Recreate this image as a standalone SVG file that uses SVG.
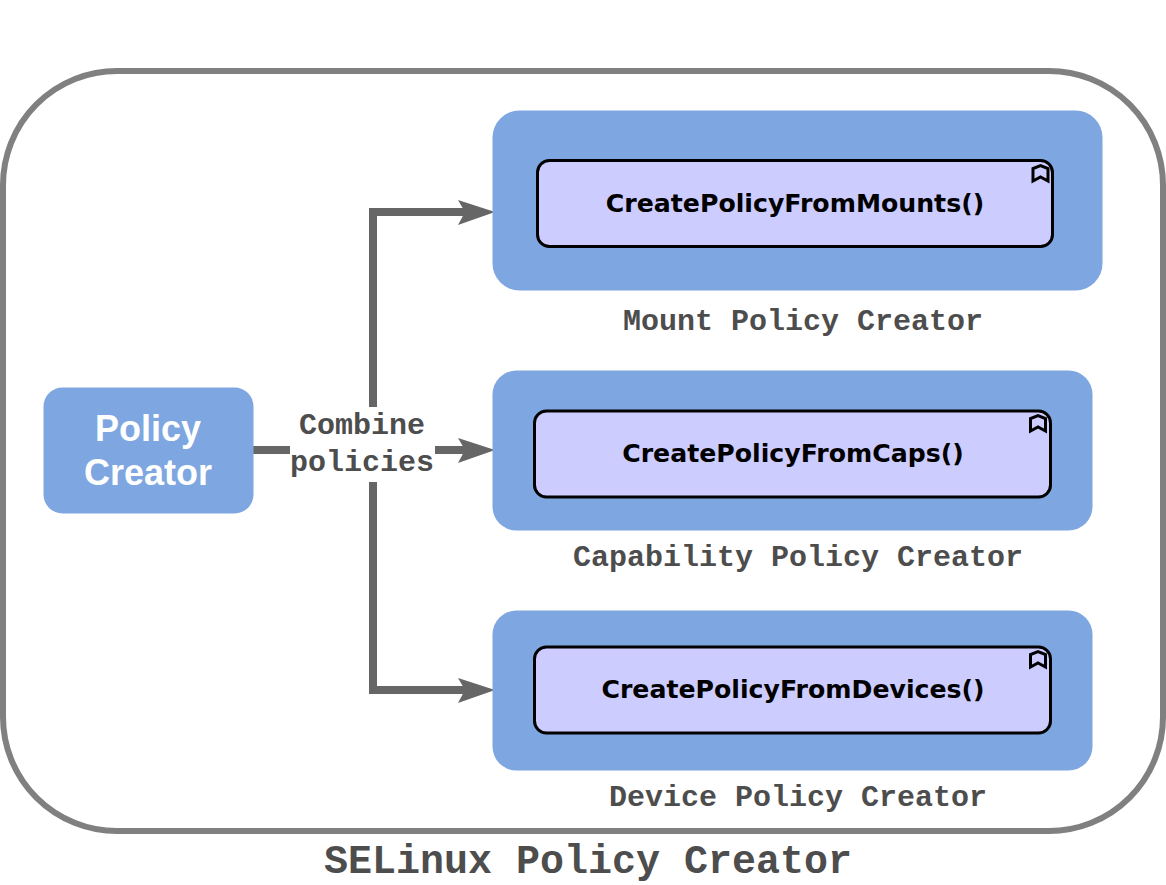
<svg xmlns="http://www.w3.org/2000/svg" width="1166" height="885" viewBox="0 0 1166 885">
<style>
.blue{fill:#7ea6e0}
.task{fill:#ccccff;stroke:#000;stroke-width:3}
.fn{font:bold 25.200px "DejaVu Sans","Liberation Sans",sans-serif;fill:#000;text-anchor:middle}
.mono{font-family:"Liberation Mono","Courier New",monospace;font-weight:bold;fill:#4d4d4d;text-anchor:middle}
.cap{font-size:30px}
.conn{fill:none;stroke:#666;stroke-width:8}
.head{fill:#666}
.bm{fill:none;stroke:#000;stroke-width:3}
</style>
<rect width="1166" height="885" fill="#fff"/>
<g id="outer">
<rect x="3" y="71" width="1160" height="760" rx="114" ry="114" fill="#fff" stroke="#808080" stroke-width="6"/>
<text class="mono" x="588" y="873" font-size="40">SELinux Policy Creator</text>
</g>
<g id="connectors">
<path class="conn" d="M253 450H468"/>
<path class="conn" d="M373 450V212H468"/>
<path class="conn" d="M373 450V690H468"/>
<path class="head" d="M495 212L458 200L465 212L458 225Z"/>
<path class="head" d="M495 450L458 438L465 450L458 463Z"/>
<path class="head" d="M495 690L458 678L465 690L458 703Z"/>
<rect x="290" y="407" width="145" height="75" fill="#fff"/>
<text class="mono cap" x="362" y="434">Combine</text>
<text class="mono cap" x="362" y="471">policies</text>
</g>
<g id="policy-creator">
<rect class="blue" x="43.500" y="387.500" width="210" height="126" rx="19"/>
<text x="148" y="441" font-family="'Liberation Sans',Arial,sans-serif" font-weight="bold" font-size="36" fill="#fff" text-anchor="middle">Policy</text>
<text x="148" y="485" font-family="'Liberation Sans',Arial,sans-serif" font-weight="bold" font-size="36" fill="#fff" text-anchor="middle">Creator</text>
</g>
<g id="mount">
<rect class="blue" x="492.500" y="110.500" width="610" height="180" rx="27"/>
<rect class="task" x="537.500" y="160.500" width="515" height="86" rx="12"/>
<path class="bm" d="M1033 181V168.500L1040.500 165.500L1048 168.500V181L1040.500 177Z"/>
<text class="fn" x="795" y="212">CreatePolicyFromMounts()</text>
<text class="mono cap" x="803" y="330">Mount Policy Creator</text>
</g>
<g id="capability">
<rect class="blue" x="492.500" y="370.500" width="600" height="160" rx="24"/>
<rect class="task" x="534.500" y="411" width="516" height="86" rx="12"/>
<path class="bm" d="M1030.500 431V418.500L1038 415.500L1045.500 418.500V431L1038 427Z"/>
<text class="fn" x="793" y="462">CreatePolicyFromCaps()</text>
<text class="mono cap" x="798" y="566">Capability Policy Creator</text>
</g>
<g id="device">
<rect class="blue" x="492.500" y="610.500" width="600" height="160" rx="24"/>
<rect class="task" x="534.500" y="647" width="516" height="86" rx="12"/>
<path class="bm" d="M1030.500 667V654.500L1038 651.500L1045.500 654.500V667L1038 663Z"/>
<text class="fn" x="793" y="698">CreatePolicyFromDevices()</text>
<text class="mono cap" x="798" y="806">Device Policy Creator</text>
</g>
</svg>
